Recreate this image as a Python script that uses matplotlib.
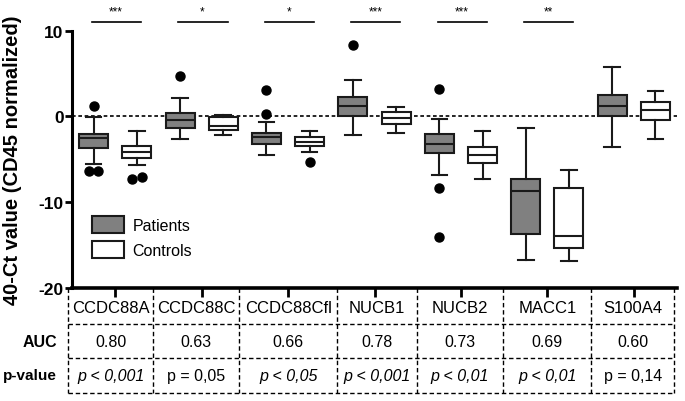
import matplotlib
matplotlib.use("Agg")
import matplotlib.pyplot as plt
from matplotlib import font_manager
from matplotlib.patches import Patch
import matplotlib.transforms as mtransforms

# ---------------- data ----------------
genes = ["CCDC88A", "CCDC88C", "CCDC88Cfl", "NUCB1", "NUCB2", "MACC1", "S100A4"]
auc = ["0.80", "0.63", "0.66", "0.78", "0.73", "0.69", "0.60"]
pvals = ["p < 0,001", "p = 0,05", "p < 0,05", "p < 0,001", "p < 0,01", "p < 0,01", "p = 0,14"]
p_italic = [True, False, True, True, True, True, False]
stars = ["***", "*", "*", "***", "***", "**", ""]

# box statistics: (whislo, q1, median, q3, whishi)
pat_lo = [-5.5, -2.6, -4.5, -2.2, -6.8, -16.76, -3.6]
pat_q1 = [-3.7, -1.3, -3.16, 0.04, -4.28, -13.75, 0.04]
pat_med = [-2.5, -0.47, -2.34, 1.25, -3.23, -8.65, 1.25]
pat_q3 = [-2.06, 0.35, -1.87, 2.27, -2.06, -7.25, 2.5]
pat_hi = [-0.1, 2.1, -0.65, 4.3, -0.27, -1.36, 5.8]
pat_out = [[1.2, -6.4, -6.4], [4.7], [3.1, 0.3], [8.3], [3.2, -8.3, -14.0], [], []]

ctl_lo = [-5.65, -2.2, -4.13, -1.87, -7.25, -16.9, -2.57]
ctl_q1 = [-4.9, -1.6, -3.43, -0.93, -5.4, -15.3, -0.39]
ctl_med = [-4.1, -1.1, -2.96, -0.15, -4.44, -13.95, 0.75]
ctl_q3 = [-3.5, -0.05, -2.45, 0.5, -3.6, -8.34, 1.72]
ctl_hi = [-1.7, 0.2, -1.7, 1.13, -1.75, -6.27, 2.97]
ctl_out = [[-7.3, -7.1], [], [-5.26], [], [], [], []]

# ---------------- fonts ----------------
names = {f.name for f in font_manager.fontManager.ttflist}
base = "Liberation Sans" if "Liberation Sans" in names else "DejaVu Sans"
narrow = "Liberation Sans Narrow" if "Liberation Sans Narrow" in names else base
plt.rcParams["font.family"] = [base, "DejaVu Sans"]

fig = plt.figure(figsize=(6.85, 4.02), dpi=100)
W, H = 685, 402
ax_l, ax_r, ax_t, ax_b = 72, 677, 31.7, 289
ax = fig.add_axes([ax_l / W, 1 - ax_b / H, (ax_r - ax_l) / W, (ax_b - ax_t) / H])

n = len(genes)
off = 0.25
bw = 0.335
edge = "#1a1a1a"
lw = 1.5


def stats(lo, q1, med, q3, hi):
    return [dict(whislo=a, q1=b, med=c, q3=d, whishi=e, fliers=[])
            for a, b, c, d, e in zip(lo, q1, med, q3, hi)]


def draw(st, pos, face):
    ax.bxp(st, positions=pos, widths=bw, capwidths=0.18, patch_artist=True,
           showfliers=False,
           boxprops=dict(facecolor=face, edgecolor=edge, linewidth=lw),
           medianprops=dict(color=edge, linewidth=lw),
           whiskerprops=dict(color=edge, linewidth=lw),
           capprops=dict(color=edge, linewidth=lw), zorder=3)


pat_pos = [i - off for i in range(n)]
ctl_pos = [i + off for i in range(n)]
draw(stats(pat_lo, pat_q1, pat_med, pat_q3, pat_hi), pat_pos, "#808080")
draw(stats(ctl_lo, ctl_q1, ctl_med, ctl_q3, ctl_hi), ctl_pos, "white")


def fliers(outs, positions):
    for p, vals in zip(positions, outs):
        vals = sorted(vals)
        groups = []
        for v in vals:
            if groups and abs(groups[-1][-1] - v) < 0.6:
                groups[-1].append(v)
            else:
                groups.append([v])
        for g in groups:
            k = len(g)
            for j, v in enumerate(g):
                dx = (j - (k - 1) / 2) * 0.11
                ax.plot(p + dx, v, "o", color="black", markersize=6.5, zorder=4,
                        clip_on=False)


fliers(pat_out, pat_pos)
fliers(ctl_out, ctl_pos)

ax.axhline(0, color="black", linewidth=1.2, linestyle=(0, (2.2, 1.6)), zorder=2)

ax.set_xlim(-0.5, n - 0.5)
ax.set_ylim(-20, 10)
ax.set_yticks([-20, -10, 0, 10])
ax.set_yticklabels(["-20", "-10", "0", "10"], fontweight="bold", fontsize=12.5)
ax.set_xticks(range(n))
ax.set_xticklabels([])
ax.tick_params(axis="y", direction="out", length=5, width=2, pad=1)
ax.tick_params(axis="x", direction="out", length=6.5, width=2)
for s in ["top", "right"]:
    ax.spines[s].set_visible(False)
ax.spines["left"].set_linewidth(2.2)
ax.spines["bottom"].set_linewidth(2.6)
ax.set_ylabel("40-Ct value (CD45 normalized)", fontweight="bold", fontsize=14.5)
ax.yaxis.set_label_coords(-0.082, 0.5)

# significance bars
for i, s in enumerate(stars):
    if not s:
        continue
    ax.plot([i - off - 0.02, i + off + 0.05], [11.0, 11.0], color="black",
            linewidth=1.2, clip_on=False)
    ax.text(i + 0.01, 11.5, s, ha="center", va="bottom", fontsize=8.5,
            clip_on=False)

# legend
handles = [Patch(facecolor="#808080", edgecolor=edge, linewidth=lw, label="Patients"),
           Patch(facecolor="white", edgecolor=edge, linewidth=lw, label="Controls")]
leg = ax.legend(handles=handles, loc="lower left", bbox_to_anchor=(0.01, 0.06),
                frameon=False, fontsize=11.5, handlelength=2.0, handleheight=1.25,
                handletextpad=0.5, labelspacing=0.5)
for t in leg.get_texts():
    t.set_fontfamily(narrow)

# table below
trans = mtransforms.blended_transform_factory(ax.transData, fig.transFigure)
borders = [-0.545, 0.44, 1.435, 2.57, 3.49, 4.49, 5.51, 6.465]
row_lines = [325, 359.3, 393.5]
row_text = [309, 342.5, 376.5]
dash = (0, (3.2, 2.0))
for b in borders:
    ax.plot([b, b], [1 - ax_b / H, 1 - row_lines[-1] / H], transform=trans,
            color="black", linewidth=1.0, linestyle=dash, clip_on=False)
for r in row_lines:
    ax.plot([borders[0], borders[-1]], [1 - r / H, 1 - r / H], transform=trans,
            color="black", linewidth=1.0, linestyle=dash, clip_on=False)
for i in range(n):
    cx = (borders[i] + borders[i + 1]) / 2
    ax.text(cx, 1 - row_text[0] / H, genes[i], transform=trans, ha="center",
            va="center", fontsize=12, family=narrow)
    ax.text(cx, 1 - row_text[1] / H, auc[i], transform=trans, ha="center",
            va="center", fontsize=11.5, family=narrow)
    ax.text(cx, 1 - row_text[2] / H, pvals[i], transform=trans, ha="center",
            va="center", fontsize=11.5, family=narrow,
            style="italic" if p_italic[i] else "normal")
fig.text(57 / W, 1 - row_text[1] / H, "AUC", ha="right", va="center",
         fontweight="bold", fontsize=11.5)
fig.text(57 / W, 1 - row_text[2] / H, "p-value", ha="right", va="center",
         fontweight="bold", fontsize=11)

fig.savefig("out.png", dpi=100)
